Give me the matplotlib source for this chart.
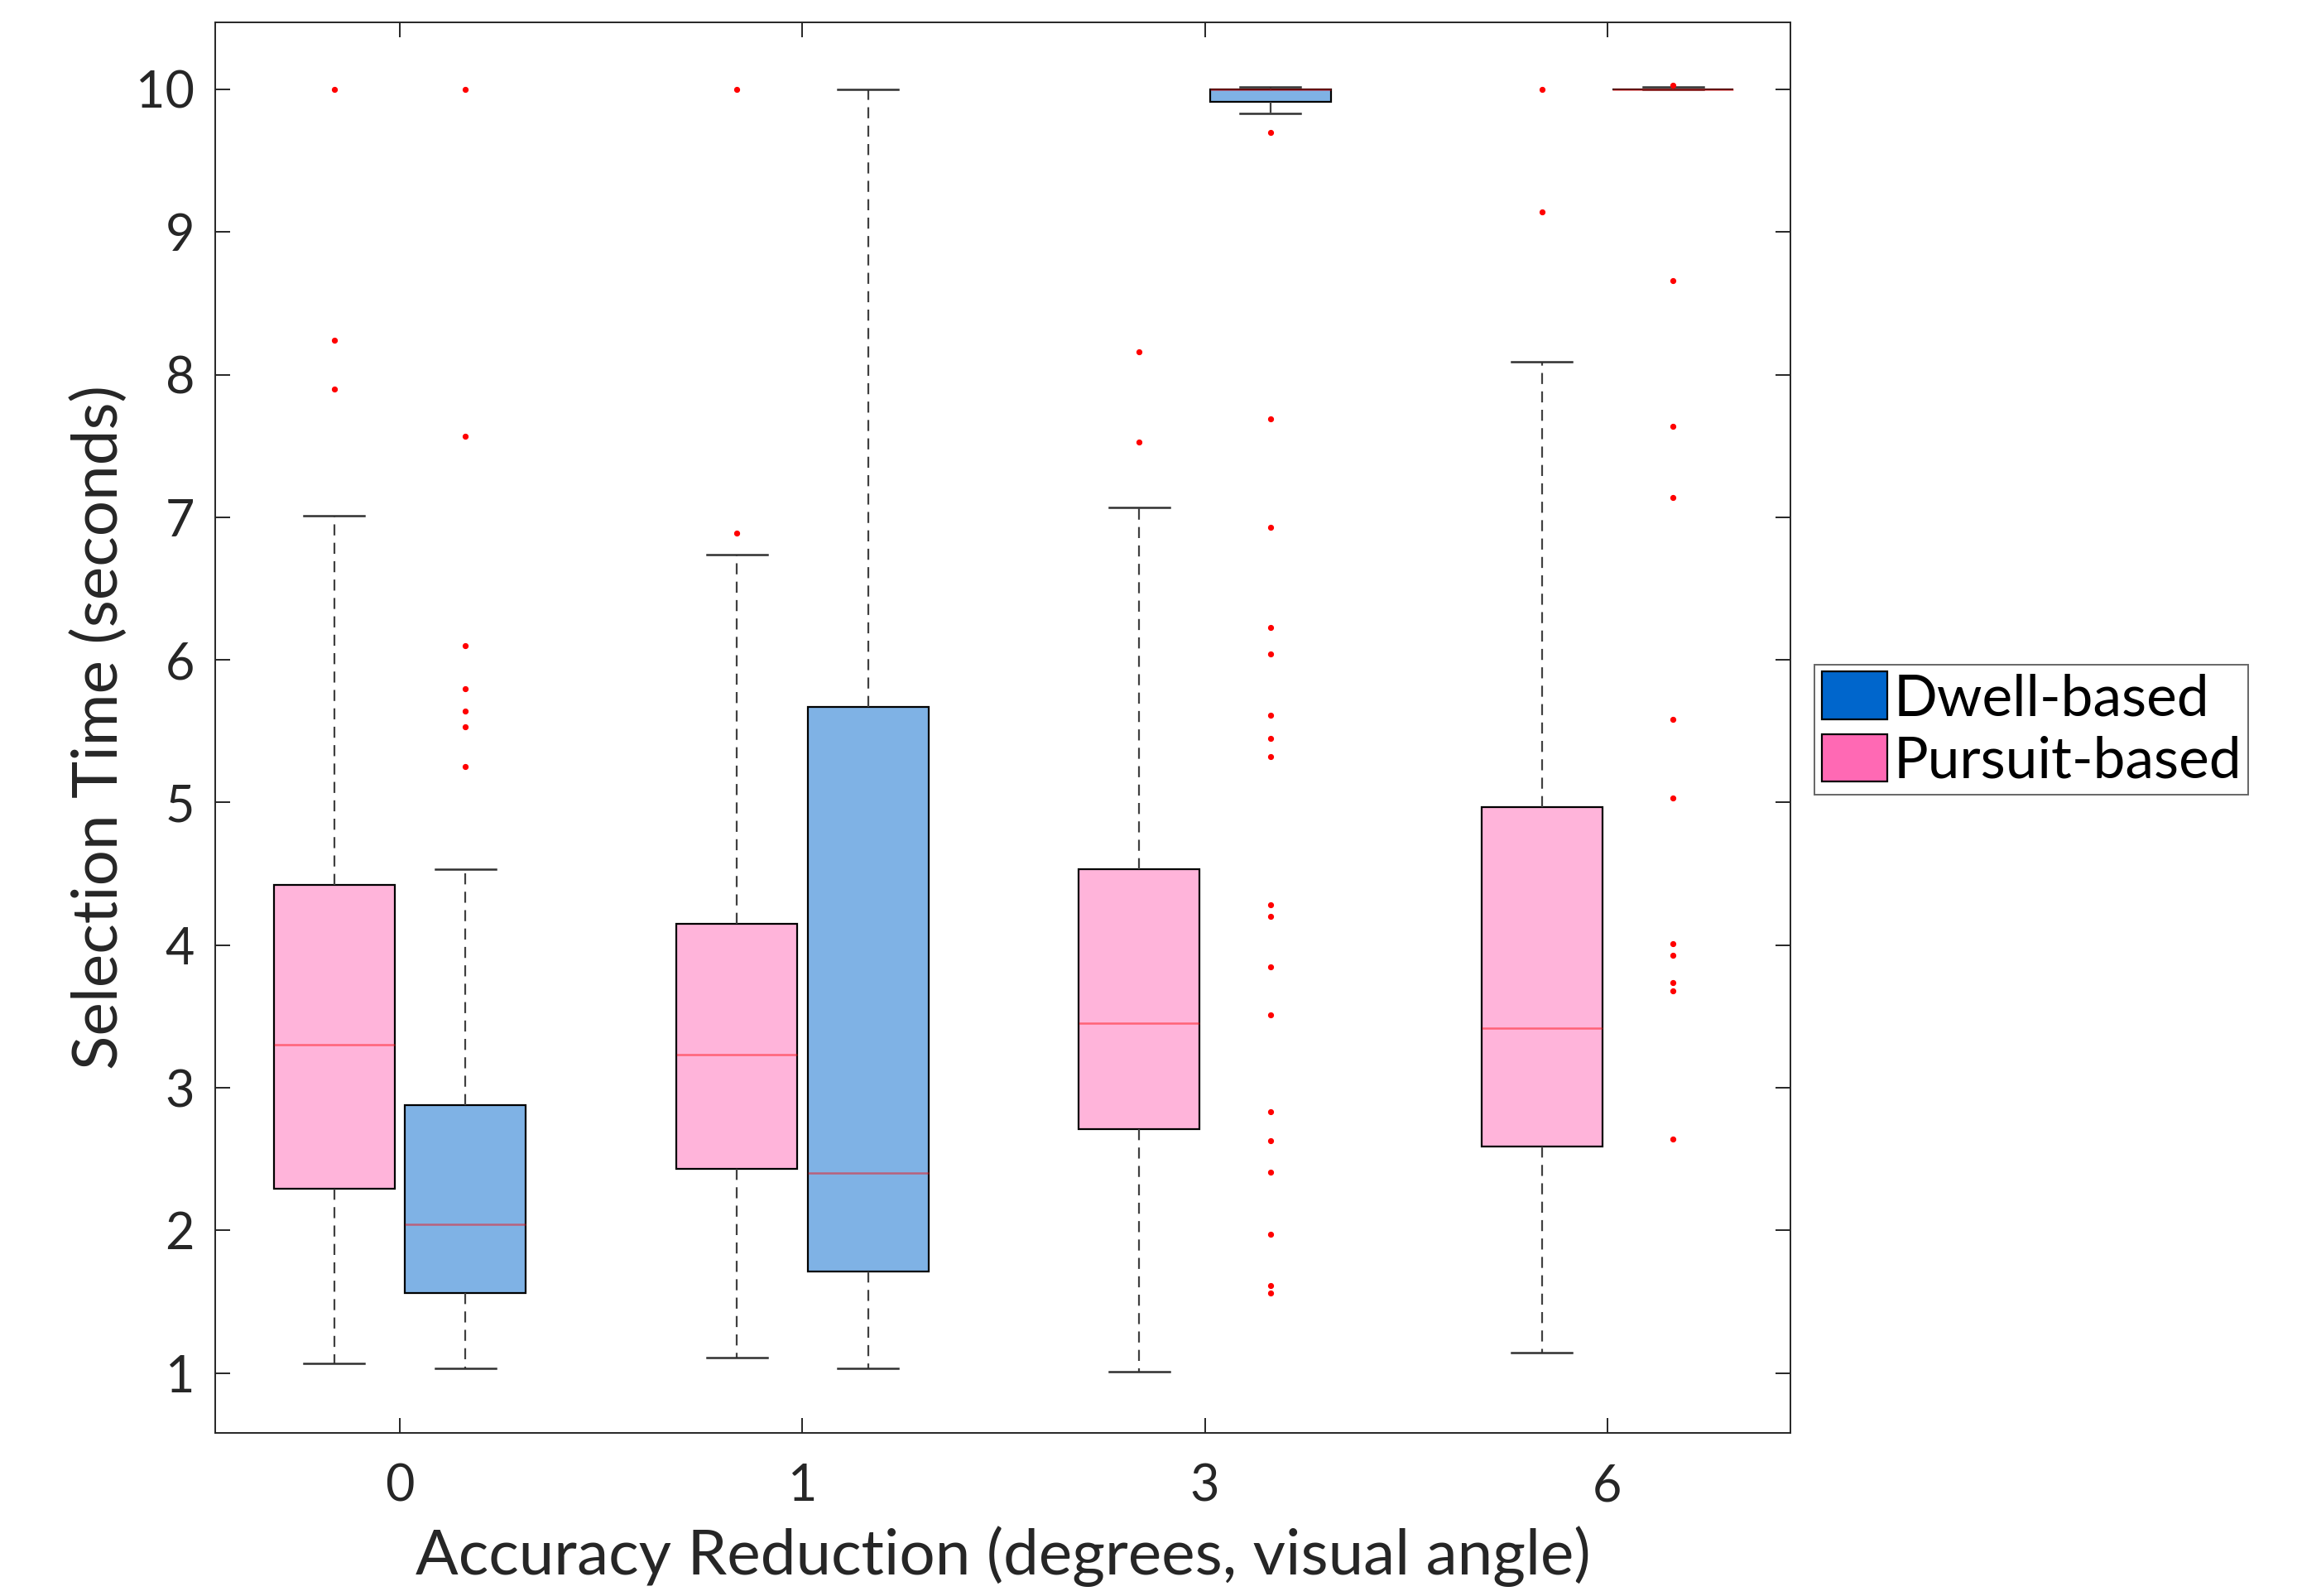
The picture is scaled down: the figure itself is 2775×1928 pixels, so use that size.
# selection time boxplots, dwell vs pursuit

import numpy as np
import matplotlib
matplotlib.use("Agg")
import matplotlib.pyplot as plt
from matplotlib.patches import Patch


# =====================================
# DATA
# =====================================

groups = ["0", "1", "3", "6"]

pursuit_lo = [1.07, 1.11, 1.01, 1.14]
pursuit_q1 = [2.29, 2.43, 2.71, 2.59]
pursuit_med = [3.30, 3.23, 3.45, 3.42]
pursuit_q3 = [4.42, 4.15, 4.53, 4.97]
pursuit_hi = [7.01, 6.74, 7.07, 8.09]
pursuit_fliers = [
    [10.0, 8.24, 7.90],
    [10.0, 6.89],
    [8.16, 7.53],
    [10.0, 9.14],
]

dwell_lo = [1.03, 1.03, 9.83, 10.0]
dwell_q1 = [1.56, 1.71, 9.91, 10.0]
dwell_med = [2.04, 2.40, 10.0, 10.0]
dwell_q3 = [2.88, 5.67, 10.0, 10.0]
dwell_hi = [4.53, 10.0, 10.02, 10.02]
dwell_fliers = [
    [10.0, 7.57, 6.10, 5.80, 5.64, 5.53, 5.25],
    [],
    [9.70, 7.69, 6.93, 6.23, 6.04, 5.61, 5.45, 5.32, 4.28, 4.20,
     3.85, 3.51, 2.83, 2.63, 2.41, 1.97, 1.61, 1.56],
    [10.03, 8.66, 7.64, 7.14, 5.58, 5.03, 4.01, 3.93, 3.74, 3.68, 2.64],
]


# =====================================
# Style
# =====================================

plt.rcParams["font.family"] = ["Lato", "DejaVu Sans"]

TXT = "#262626"
BLUE = "#0066CC"
PINK = "#FF69B4"
BLUE_FILL = "#7FB2E5"
PINK_FILL = "#FFB4DA"


def make_stats(lo, q1, med, q3, hi, fl):
    out = []
    for i in range(len(lo)):
        out.append(dict(
            whislo=lo[i], q1=q1[i], med=med[i], q3=q3[i],
            whishi=hi[i], fliers=np.array(fl[i])
        ))
    return out


pursuit_stats = make_stats(pursuit_lo, pursuit_q1, pursuit_med,
                           pursuit_q3, pursuit_hi, pursuit_fliers)
dwell_stats = make_stats(dwell_lo, dwell_q1, dwell_med,
                         dwell_q3, dwell_hi, dwell_fliers)

x = np.arange(len(groups))
off = 0.163
bw = 0.30


# =====================================
# Plot
# =====================================

fig = plt.figure(figsize=(13.875, 9.64), dpi=200)
ax = fig.add_axes([0.0937, 0.1022, 0.6858, 0.8838])


def draw(stats, pos, fill):
    ax.bxp(
        stats,
        positions=pos,
        widths=bw,
        capwidths=bw / 2,
        patch_artist=True,
        showfliers=True,
        boxprops=dict(facecolor=fill, edgecolor="black", linewidth=0.8),
        whiskerprops=dict(color="#404040", linewidth=0.8,
                          linestyle=(0, (6, 4))),
        capprops=dict(color="#303030", linewidth=0.9),
        medianprops=dict(color="red", alpha=0.45, linewidth=0.9),
        flierprops=dict(marker="o", markersize=1.6,
                        markerfacecolor="red", markeredgecolor="red",
                        linestyle="none"),
        manage_ticks=False,
    )


draw(pursuit_stats, x - off, PINK_FILL)
draw(dwell_stats, x + off, BLUE_FILL)


# =====================================
# Axes
# =====================================

ax.set_xlim(-0.4587, 3.455)
ax.set_ylim(0.58, 10.47)

ax.set_xticks(x)
ax.set_xticklabels(groups)
ax.set_yticks(np.arange(1, 11))

ax.tick_params(
    direction="in", length=6.5, width=0.7, colors=TXT,
    top=True, right=True, labelsize=22
)
ax.tick_params(axis="y", pad=9)
ax.tick_params(axis="x", pad=13)

for s in ax.spines.values():
    s.set_color(TXT)
    s.set_linewidth(0.7)

ax.set_ylabel("Selection Time (seconds)", fontsize=27.5, color=TXT)
ax.yaxis.set_label_coords(-0.0736, 0.5)
ax.yaxis.label.set_verticalalignment("center")

ax.set_xlabel("Accuracy Reduction (degrees, visual angle)",
              fontsize=27.5, color=TXT)
ax.xaxis.set_label_coords(0.5, -0.0874)
ax.xaxis.label.set_verticalalignment("center")


# =====================================
# Legend
# =====================================

handles = [
    Patch(facecolor=BLUE, edgecolor="black", linewidth=0.8,
          label="Dwell-based"),
    Patch(facecolor=PINK, edgecolor="black", linewidth=0.8,
          label="Pursuit-based"),
]

leg = fig.legend(
    handles=handles,
    loc="upper left",
    bbox_to_anchor=(0.790, 0.5835),
    fontsize=25,
    frameon=True,
    fancybox=False,
    borderaxespad=0,
    borderpad=0.12,
    handlelength=1.15,
    handleheight=0.9,
    handletextpad=0.1,
    labelspacing=0.15,
)
leg.get_frame().set_edgecolor("#404040")
leg.get_frame().set_linewidth(0.7)
for t in leg.get_texts():
    t.set_color("black")


out = "out.png"

fig.savefig(out, dpi=200)

print(f"Saved: {out}")
